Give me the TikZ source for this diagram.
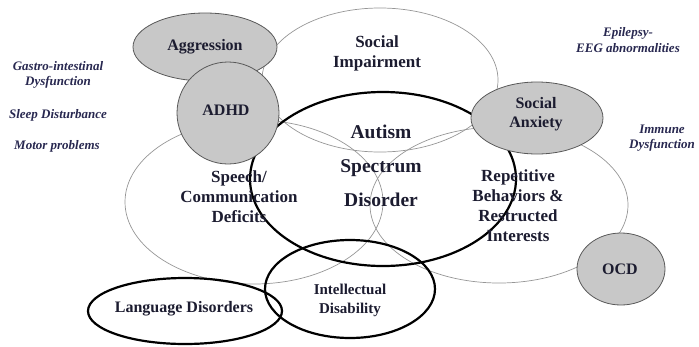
\documentclass[tikz,border=0pt]{standalone}
\usepackage{fontspec}
\setmainfont{Liberation Serif}
\usetikzlibrary{shapes}

\definecolor{ringgray}{RGB}{150,150,150}
\definecolor{blobgray}{RGB}{200,200,200}
\definecolor{inkblue}{RGB}{28,28,48}
\definecolor{sideblue}{RGB}{40,40,80}

\begin{document}
\begin{tikzpicture}[x=1pt,y=-1pt,
thinring/.style={
ellipse,
draw=ringgray,
line width=0.7pt,
inner sep=0pt
},
thickring/.style={ellipse,draw=black,line width=2.2pt,inner sep=0pt},
blob/.style={ellipse,draw=black!65,fill=blobgray,line width=0.8pt,inner sep=0pt},
lbl/.style={font=\bfseries\fontsize{16}{19.5}\selectfont,text=inkblue,align=center},
sidenote/.style={font=\bfseries\itshape\fontsize{13}{15.5}\selectfont,text=sideblue,align=center},]

\useasboundingbox (0,0) rectangle (699,346);

% outer thin circles
\node (socring) [thinring,minimum width=236pt,minimum height=144pt] at (380,80) {};
\node (speechring) [thinring,minimum width=258pt,minimum height=164pt] at (254,202) {};
\node (repring) [thinring,minimum width=258pt,minimum height=156pt] at (499,205) {};

% thick circles
\node (autismring) [thickring,minimum width=266pt,minimum height=174pt] at (383,179) {};
\node (intelring) [thickring,minimum width=170pt,minimum height=98pt] at (350,289) {};
\node (langring) [thickring,minimum width=194pt,minimum height=66pt] at (185,311) {};

% grey comorbid conditions
\node (aggrblob) [blob,minimum width=144pt,minimum height=68pt] at (205,47) {};
\node (adhdblob) [blob,minimum width=102pt,minimum height=102pt] at (228,113) {};
\node (anxblob) [blob,minimum width=132pt,minimum height=72pt] at (537,118) {};
\node (ocdblob) [blob,minimum width=88pt,minimum height=72pt] at (621,269) {};

% texts
\node (aggr) [lbl] at (205,47) {Aggression};
\node (adhd) [lbl] at (226,110) {ADHD};
\node (soc) [lbl,font=\bfseries\fontsize{17}{20}\selectfont] at (377,53) {Social\\Impairment};
\node (asd) [lbl,font=\bfseries\fontsize{19.5}{34}\selectfont] at (381,166) {Autism\\Spectrum\\Disorder};
\node (anx) [lbl] at (536,114) {Social\\Anxiety};
\node (speech) [lbl,font=\bfseries\fontsize{17}{20}\selectfont] at (239,197) {Speech/\\Communication\\Deficits};
\node (rep) [lbl,font=\bfseries\fontsize{17}{20}\selectfont] at (518,206) {Repetitive\\Behaviors \&\\Restructed\\Interests};
\node (ocd) [lbl] at (620,269) {OCD};
\node (intel) [lbl,font=\bfseries\fontsize{15}{19}\selectfont] at (350,300) {Intellectual\\Disability};
\node (lang) [lbl] at (184,309) {Language Disorders};

\node (gastro) [sidenote] at (58,75) {Gastro-intestinal\\Dysfunction};
\node (sleep) [sidenote] at (58,115) {Sleep Disturbance};
\node (motor) [sidenote] at (57,146) {Motor problems};
\node (epi) [sidenote] at (628,40) {Epilepsy-\\EEG abnormalities};
\node (immune) [sidenote] at (662,138) {Immune\\Dysfunction};
\end{tikzpicture}
\end{document}
